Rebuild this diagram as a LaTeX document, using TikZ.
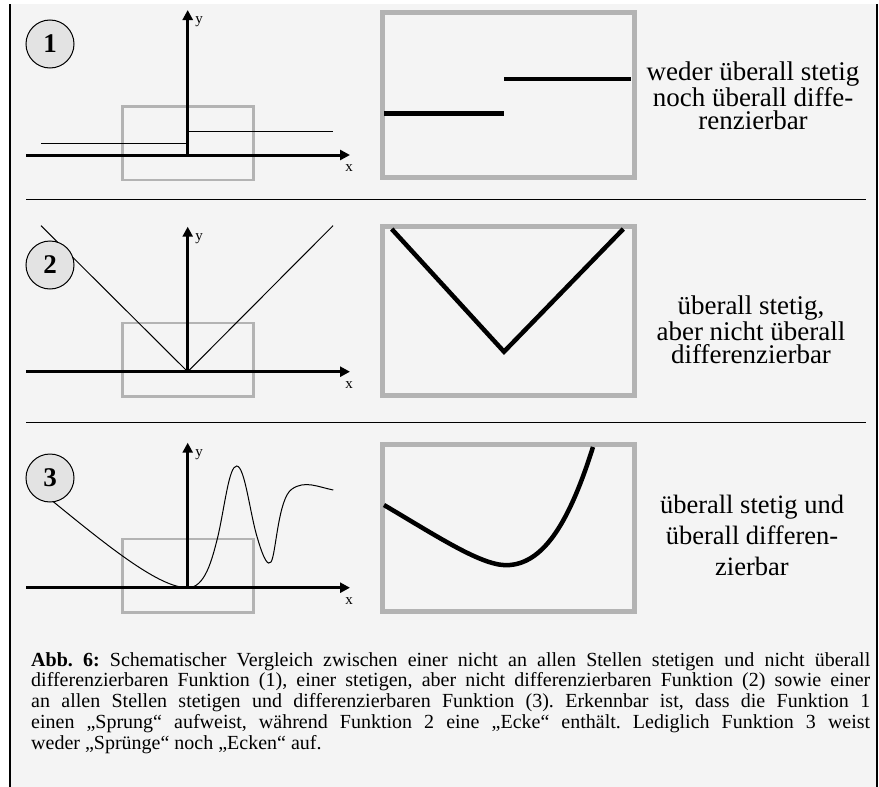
\documentclass[tikz,border=0pt]{standalone}
\usepackage{fontspec}
\setmainfont{Liberation Serif}
\usetikzlibrary{arrows.meta}
\definecolor{paper}{HTML}{F4F4F4}
\definecolor{frame}{HTML}{B3B3B3}
\definecolor{badgegray}{HTML}{E3E3E3}

\begin{document}
\frenchspacing
\begin{tikzpicture}[x=1pt, y=-1pt,
  axis/.style={line width=3pt, -{Triangle[length=10pt, width=10pt]}},
  win/.style={draw=frame, line width=2.5pt},
  zoomwin/.style={draw=frame, line width=5pt},
  graph/.style={line width=1pt},
  zoomgraph/.style={line width=4.5pt},
  badge/.style={circle, draw, line width=1pt, fill=badgegray, minimum size=48pt,
                inner sep=0pt, font=\fontsize{27}{27}\selectfont\bfseries},
  lbl/.style={font=\fontsize{15}{15}\selectfont, inner sep=0pt},
  desc/.style={align=center, font=\fontsize{27}{23.5}\selectfont, inner sep=0pt},
  sep/.style={line width=1pt}]
  \useasboundingbox (0,0) rectangle (879,787);
  \fill[paper] (10,4) rectangle (877,787);
  % axes and small windows
  \foreach \oy/\n in {155/1, 371.7/2, 587.7/3} {
    \coordinate (o\n) at (187.7,\oy);
    \draw[win] (122.7,{\oy-48.5}) rectangle (253.3,{\oy+24.8});
    \draw[axis] (26,\oy) -- (350,\oy);
    \draw[axis] (o\n) -- (187.7,{\oy-145});
    \node[lbl] (x\n) at (349,{\oy+13}) {x};
    \node[lbl] (y\n) at (199,{\oy-133}) {y};
  }
  % function 1: jump
  \draw[graph] (41,143.3) -- (187.7,143.3) -- (187.7,131) -- (333,131);
  \node[badge] (n1) at (50,44) {1};
  \draw[zoomwin] (382,12.5) rectangle (634,177.5);
  \draw[zoomgraph] (384,113.3) -- (504,113.3);
  \draw[zoomgraph] (504,79) -- (631,79);
  \node[desc] (t1) at (753,96) {weder überall stetig\\noch überall diffe-\\renzierbar};
  % function 2: corner
  \draw[graph] (41,225.7) -- (o2) -- (333,225.7);
  \node[badge] (n2) at (50,265) {2};
  \draw[zoomwin] (382,226) rectangle (634,395);
  \draw[zoomgraph] (391.7,229) -- (504,351.7) -- (623.3,229);
  \node[desc] (t2) at (751,330) {überall stetig,\\aber nicht überall\\differenzierbar};
  % function 3: smooth
  \draw[graph] (53.3,501.7) .. controls (110,548) and (160,588) .. (o3)
    .. controls (205,588) and (212,560) .. (218,536)
    .. controls (225,505) and (229,466) .. (236.7,466)
    .. controls (245,466) and (250,515) .. (258,540)
    .. controls (264,560) and (268,566) .. (271,562)
    .. controls (276,555) and (278,498) .. (292,489)
    .. controls (305,480) and (318,487) .. (333.3,490);
  \node[badge] (n3) at (50,478) {3};
  \draw[zoomwin] (382,444) rectangle (634,611.5);
  \draw[zoomgraph] (384,505) .. controls (440,538) and (485,568) .. (510,565)
    .. controls (545,562) and (570,520) .. (593,447);
  \node[desc, font=\fontsize{26.5}{31}\selectfont] (t3) at (752,535) {überall stetig und\\überall differen-\\zierbar};
  % separators and frame
  \draw[sep] (26,199.3) -- (866,199.3);
  \draw[sep] (26,422) -- (866,422);
  \draw[line width=2pt] (10,4) -- (10,787);
  \draw[line width=1.5pt] (877,4) -- (877,787);
  % caption
  \node[anchor=north west, inner sep=0pt, align=left, font=\fontsize{20}{20.8}\selectfont] (cap) at (31,652)
    {\makebox[839pt][s]{\textbf{Abb. 6:} Schematischer Vergleich zwischen einer nicht an allen Stellen stetigen und nicht überall}\\
     \makebox[839pt][s]{differenzierbaren Funktion (1), einer stetigen, aber nicht differenzierbaren Funktion (2) sowie einer}\\
     \makebox[839pt][s]{an allen Stellen stetigen und differenzierbaren Funktion (3). Erkennbar ist, dass die Funktion 1}\\
     \makebox[839pt][s]{einen „Sprung“ aufweist, während Funktion 2 eine „Ecke“ enthält. Lediglich Funktion 3 weist}\\
     weder „Sprünge“ noch „Ecken“ auf.};
\end{tikzpicture}
\end{document}
